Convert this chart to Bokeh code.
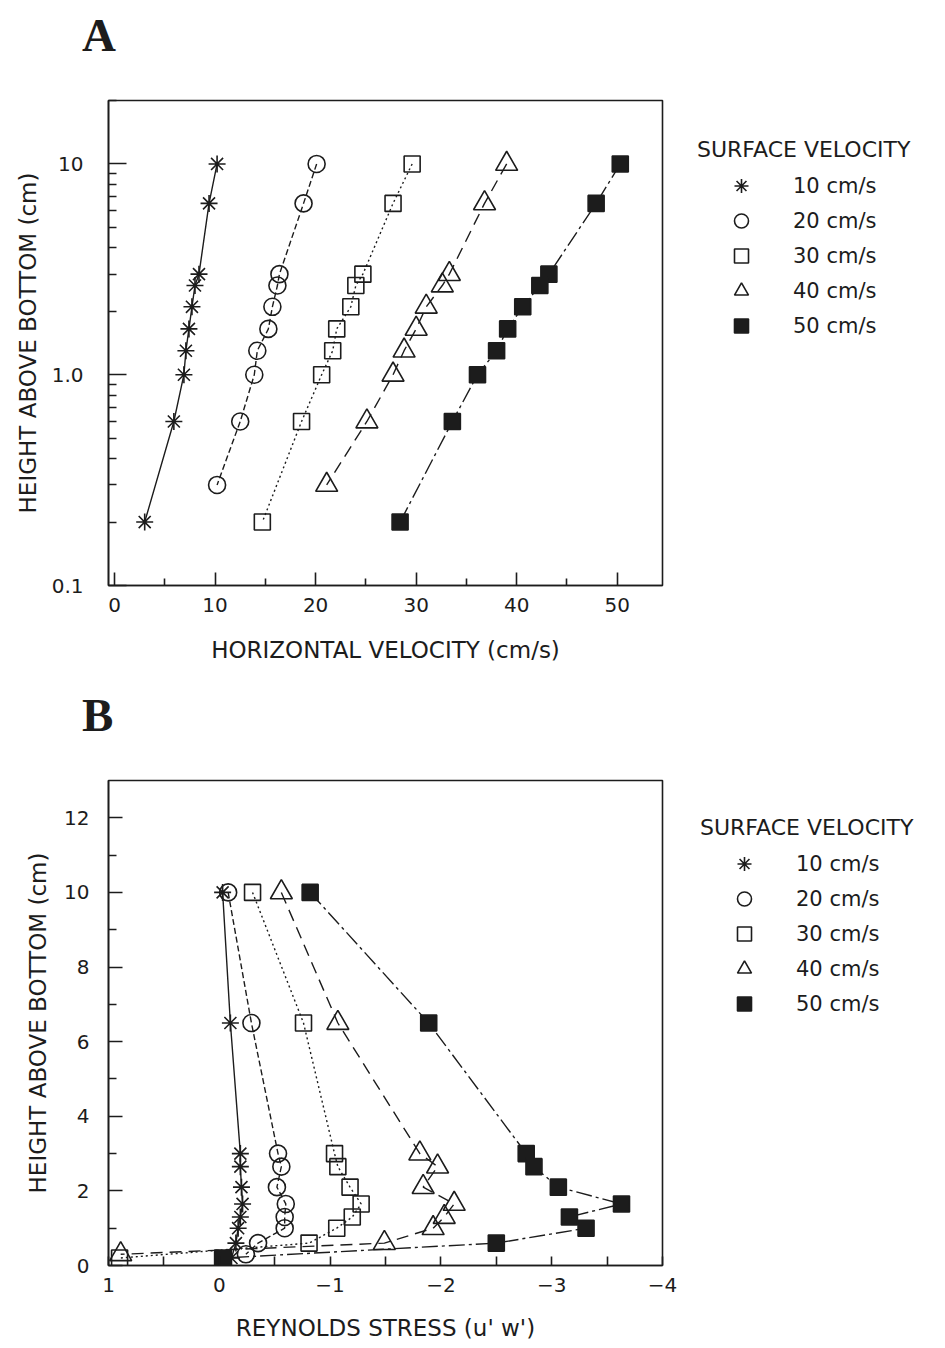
from bokeh.plotting import figure
from bokeh.layouts import column
from bokeh.models import Range1d, FixedTicker, Legend, LegendItem, Div
from bokeh.embed import file_html
from bokeh.resources import INLINE

# ---------------- data ----------------
surface_velocity = ["10 cm/s", "20 cm/s", "30 cm/s", "40 cm/s", "50 cm/s"]

height_10 = [10, 6.5, 3.0, 2.65, 2.1, 1.65, 1.3, 1.0, 0.6, 0.2]
height_20 = [10, 6.5, 3.0, 2.65, 2.1, 1.65, 1.3, 1.0, 0.6, 0.3]
height_30 = [10, 6.5, 3.0, 2.65, 2.1, 1.65, 1.3, 1.0, 0.6, 0.2]
height_40 = [10, 6.5, 3.0, 2.65, 2.1, 1.65, 1.3, 1.0, 0.6, 0.3]
height_50 = [10, 6.5, 3.0, 2.65, 2.1, 1.65, 1.3, 1.0, 0.6, 0.2]

# Panel A: horizontal velocity (cm/s)
velocity_10 = [10.2, 9.4, 8.4, 8.0, 7.7, 7.4, 7.1, 6.9, 5.9, 3.0]
velocity_20 = [20.1, 18.8, 16.4, 16.2, 15.7, 15.3, 14.2, 13.9, 12.5, 10.2]
velocity_30 = [29.6, 27.7, 24.7, 24.0, 23.5, 22.1, 21.7, 20.6, 18.6, 14.7]
velocity_40 = [39.0, 36.8, 33.3, 32.6, 31.0, 30.0, 28.8, 27.7, 25.1, 21.1]
velocity_50 = [50.3, 47.9, 43.2, 42.3, 40.6, 39.1, 38.0, 36.1, 33.6, 28.4]

# Panel B: Reynolds stress
stress_10 = [-0.03, -0.10, -0.19, -0.19, -0.20, -0.21, -0.19, -0.17, -0.15, -0.11]
stress_20 = [-0.08, -0.29, -0.53, -0.56, -0.52, -0.60, -0.59, -0.59, -0.35, -0.24]
stress_30 = [-0.30, -0.76, -1.04, -1.07, -1.18, -1.28, -1.20, -1.06, -0.81, 0.90]
stress_40 = [-0.56, -1.07, -1.81, -1.97, -1.84, -2.12, -2.03, -1.93, -1.49, 0.89]
stress_50 = [-0.82, -1.89, -2.77, -2.84, -3.06, -3.63, -3.16, -3.31, -2.50, -0.03]

velocity_ticks = [0, 10, 20, 30, 40, 50]
velocity_minor_ticks = [5, 15, 25, 35, 45]
height_log_ticks = [0.1, 1, 10]
height_log_labels = ["0.1", "1.0", "10"]
height_log_minor_ticks = [0.2, 0.3, 0.4, 0.5, 0.6, 0.7, 0.8, 0.9,
                          2, 3, 4, 5, 6, 7, 8, 9, 20]
height_ticks = [0, 2, 4, 6, 8, 10, 12]
height_minor_ticks = [1, 3, 5, 7, 9, 11]
stress_ticks = [1, 0, -1, -2, -3, -4]
stress_labels = ["1", "0", "\u22121", "\u22122", "\u22123", "\u22124"]
stress_minor_ticks = [0.5, -0.5, -1.5, -2.5, -3.5]

heights = [height_10, height_20, height_30, height_40, height_50]
velocities = [velocity_10, velocity_20, velocity_30, velocity_40, velocity_50]
stresses = [stress_10, stress_20, stress_30, stress_40, stress_50]

# ---------------- styles ----------------
INK = "#1c1c1c"
FONT = "DejaVu Sans"
markers = ["asterisk", "circle", "square", "triangle", "square"]
fills = [None, None, None, None, INK]
sizes = [17, 17, 16, 22, 16]
dashes = ["solid", "6 3", "2 3", "12 7", "16 4 3 4"]


def style(p):
    p.grid.visible = False
    p.outline_line_color = INK
    p.outline_line_width = 1.6
    p.outline_line_alpha = 1
    p.background_fill_color = "white"
    p.border_fill_color = "white"
    for ax in p.axis:
        ax.axis_line_color = INK
        ax.axis_line_width = 1.6
        ax.major_tick_line_color = INK
        ax.minor_tick_line_color = INK
        ax.major_tick_line_width = 1.6
        ax.minor_tick_line_width = 1.6
        ax.major_tick_out = 0
        ax.minor_tick_out = 0
        ax.major_label_text_font = FONT
        ax.major_label_text_font_size = "20px"
        ax.major_label_text_color = INK
        ax.axis_label_text_font = FONT
        ax.axis_label_text_font_size = "23px"
        ax.axis_label_text_font_style = "normal"
        ax.axis_label_text_color = INK


def draw_series(p, xs_list):
    rs = []
    for xs, ys, mk, fc, sz, ds in zip(xs_list, heights, markers, fills, sizes, dashes):
        p.line(x=xs, y=ys, line_color=INK, line_width=1.4, line_dash=ds)
        r = p.scatter(x=xs, y=ys, marker=mk, size=sz, line_color=INK,
                      line_width=1.6, fill_color=fc)
        rs.append(r)
    return rs


def make_legend(rs, loc):
    items = [LegendItem(label=lab, renderers=[r]) for lab, r in zip(surface_velocity, rs)]
    return Legend(items=items, location=loc, orientation="vertical",
                  title="SURFACE VELOCITY",
                  title_text_font=FONT, title_text_font_size="22px",
                  title_text_font_style="normal", title_text_color=INK,
                  title_standoff=6,
                  label_text_font=FONT, label_text_font_size="21px",
                  label_text_color=INK, glyph_width=88, glyph_height=35,
                  label_height=35, label_standoff=8, spacing=0, padding=0,
                  margin=0, border_line_alpha=0, background_fill_alpha=0)


def panel_letter(letter, height, pad_top):
    html = ('<div style="padding:%dpx 0 0 82px; font-family:\'Liberation Serif\'; '
            'font-weight:bold; font-size:47px; line-height:47px; color:%s;">%s</div>'
            % (pad_top, INK, letter))
    return Div(text=html, width=300, height=height, margin=0)


# ---------------- panel A ----------------
pa = figure(frame_width=554, frame_height=485, y_axis_type="log",
            x_range=Range1d(-0.6, 54.5), y_range=Range1d(0.1, 20),
            min_border_left=108, min_border_right=275,
            min_border_top=4, min_border_bottom=103,
            output_backend="svg", toolbar_location=None)
style(pa)
pa.xaxis.ticker = FixedTicker(ticks=velocity_ticks, minor_ticks=velocity_minor_ticks)
pa.xaxis.major_tick_in = 13
pa.xaxis.minor_tick_in = 7
pa.xaxis.major_label_standoff = 12
pa.xaxis.axis_label = "HORIZONTAL VELOCITY (cm/s)"
pa.xaxis.axis_label_standoff = 22
pa.yaxis.ticker = FixedTicker(ticks=height_log_ticks, minor_ticks=height_log_minor_ticks)
pa.yaxis.major_label_overrides = dict(zip(height_log_ticks, height_log_labels))
pa.yaxis.major_tick_in = 18
pa.yaxis.minor_tick_in = 8
pa.yaxis.major_label_standoff = 25
pa.yaxis.axis_label = "HEIGHT ABOVE BOTTOM (cm)"
pa.yaxis.axis_label_standoff = 8

ra = draw_series(pa, velocities)
pa.add_layout(make_legend(ra, (35, 242)), "right")

# ---------------- panel B ----------------
pb = figure(frame_width=554, frame_height=485,
            x_range=Range1d(1, -4), y_range=Range1d(0, 13),
            min_border_left=108, min_border_right=275,
            min_border_top=4, min_border_bottom=83,
            output_backend="svg", toolbar_location=None)
style(pb)
pb.xaxis.ticker = FixedTicker(ticks=stress_ticks, minor_ticks=stress_minor_ticks)
pb.xaxis.major_label_overrides = dict(zip(stress_ticks, stress_labels))
pb.xaxis.major_tick_in = 9
pb.xaxis.minor_tick_in = 9
pb.xaxis.major_label_standoff = 12
pb.xaxis.axis_label = "REYNOLDS STRESS (u' w')"
pb.xaxis.axis_label_standoff = 20
pb.yaxis.ticker = FixedTicker(ticks=height_ticks, minor_ticks=height_minor_ticks)
pb.yaxis.major_tick_in = 14
pb.yaxis.minor_tick_in = 8
pb.yaxis.major_label_standoff = 19
pb.yaxis.axis_label = "HEIGHT ABOVE BOTTOM (cm)"
pb.yaxis.axis_label_standoff = 10

rb = draw_series(pb, stresses)
pb.add_layout(make_legend(rb, (38, 244)), "right")

layout = column(panel_letter("A", 96, 12), pa, panel_letter("B", 88, 4), pb)
open("out.html", "w").write(file_html(layout, INLINE))
